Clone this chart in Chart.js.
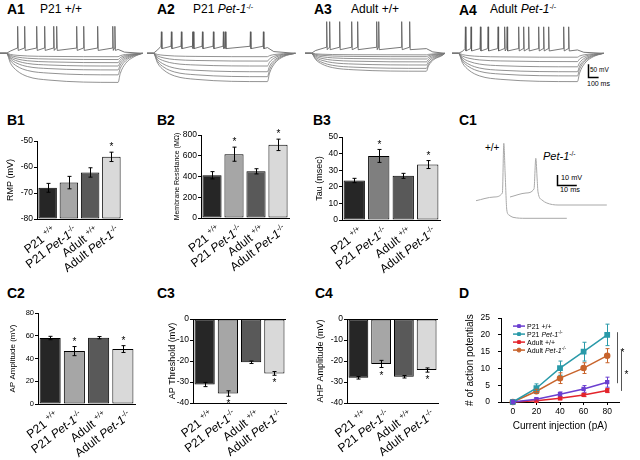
<!DOCTYPE html>
<html>
<head>
<meta charset="utf-8">
<title>Pet-1 membrane properties</title>
<script src="https://cdn.jsdelivr.net/npm/chart.js@4.4.1/dist/chart.umd.min.js"></script>
<style>
  body { margin: 0; background: #fff; }
  #fig { position: relative; width: 640px; height: 460px; overflow: hidden; font-family: "Liberation Sans", Arial, sans-serif; color: #000; }
  #fig canvas { position: absolute; }
  .pl { position: absolute; font-size: 14px; font-weight: bold; line-height: 14px; }
  .tt { position: absolute; font-size: 12px; line-height: 12px; white-space: nowrap; }
  .sm { position: absolute; line-height: 1; white-space: nowrap; }
  sup { font-size: 0.6em; vertical-align: 0.55em; line-height: 0; }
</style>
</head>
<body>
<div id="fig">
  <div class="pl" style="left:7px;top:2px">A1</div>
  <div class="tt" style="left:40px;top:3px">P21 +/+</div>
  <div class="pl" style="left:157px;top:2px">A2</div>
  <div class="tt" style="left:193px;top:3px">P21 <i>Pet-1</i><sup>-/-</sup></div>
  <div class="pl" style="left:314px;top:2px">A3</div>
  <div class="tt" style="left:351px;top:3px">Adult +/+</div>
  <div class="pl" style="left:459px;top:3px">A4</div>
  <div class="tt" style="left:490px;top:3px">Adult <i>Pet-1</i><sup>-/-</sup></div>
  <div class="sm" style="left:590px;top:67px;font-size:6.5px">50 mV</div>
  <div class="sm" style="left:587px;top:80px;font-size:7px">100 ms</div>

  <div class="pl" style="left:7px;top:113px">B1</div>
  <div class="pl" style="left:157px;top:113px">B2</div>
  <div class="pl" style="left:313px;top:113px">B3</div>
  <div class="pl" style="left:459px;top:113px">C1</div>
  <div class="sm" style="left:485px;top:143px;font-size:10px">+/+</div>
  <div class="sm" style="left:543px;top:151px;font-size:11px"><i>Pet-1</i><sup>-/-</sup></div>
  <div class="sm" style="left:561px;top:174px;font-size:7.3px">10 mV</div>
  <div class="sm" style="left:560px;top:186px;font-size:7.3px">10 ms</div>

  <div class="pl" style="left:7px;top:286px">C2</div>
  <div class="pl" style="left:157px;top:286px">C3</div>
  <div class="pl" style="left:315px;top:286px">C4</div>
  <div class="pl" style="left:459px;top:286px">D</div>
</div>
<script>
// ---- data ----
var groups = ['P21 +/+', 'P21 Pet-1-/-', 'Adult +/+', 'Adult Pet-1-/-'];

var rmp = [-68, -66, -62.1, -56.1];
var rmpErr = [1.7, 2.4, 1.8, 1.8];
var rmpSig = [0, 0, 0, 1];
var resistance = [412, 615, 450, 705];
var resistanceErr = [35, 68, 25, 55];
var resistanceSig = [0, 1, 0, 1];
var tau = [23.8, 38.6, 26.6, 33.4];
var tauErr = [1.3, 3.9, 1.5, 2.4];
var tauSig = [0, 1, 0, 1];
var apAmp = [58, 46.5, 58.3, 48.3];
var apAmpErr = [1.5, 4, 1, 3];
var apAmpSig = [0, 1, 0, 1];
var apThreshold = [-31.2, -35.5, -20.6, -25.9];
var apThresholdErr = [1, 1.3, 0.6, 0.9];
var apThresholdSig = [0, 1, 0, 1];
var ahpAmp = [-28, -21.4, -27.5, -24.3];
var ahpAmpErr = [0.6, 1.7, 0.6, 1];
var ahpAmpSig = [0, 1, 0, 1];

// D: number of action potentials vs current step
var current = [0, 20, 40, 60, 80];
var xTicks = [0, 20, 40, 60, 80];
var apP21Wt = [0, 0.85, 2.3, 3.9, 5.9];
var apP21WtErr = [0, 0.3, 0.7, 1.0, 1.5];
var apP21Ko = [0, 4.1, 10.1, 15, 20];
var apP21KoErr = [0, 1.3, 2.1, 2.8, 3.2];
var apAdultWt = [0, 0.35, 1.1, 2.1, 3.4];
var apAdultWtErr = [0, 0.2, 0.4, 0.5, 0.6];
var apAdultKo = [0, 3.2, 7.1, 10.1, 13.8];
var apAdultKoErr = [0, 0.6, 1.6, 1.6, 2.1];
var sigLines = [{at: 88, from: 20.8, to: 5.6, star: 15.2}, {at: 92, from: 15.5, to: 3.3, star: 8.7}];

// A: step responses (mV from rest), spike times (ms from step onset)
var a1Steps = [-13, -24, -36, -49, -64, -83, -112];
var a1Spikes = [106, 172, 285, 360, 445, 473, 661, 727, 858, 1000, 1020];
var a2Steps = [-13, -30, -49, -71, -90, -109];
var a2Spikes = [75, 169, 263, 367, 376, 461, 564, 658, 677, 912, 1034];
var a3Steps = [-6, -13, -22, -33, -45, -58, -69];
var a3Spikes = [144, 172, 266, 379, 435, 614, 633, 849, 924];
var a4Steps = [-15, -32, -52, -71, -87, -109];
var a4Spikes = [66, 119, 207, 279, 373, 435, 458, 567, 614, 661, 755, 802, 849, 990, 1037];
var stepDur = [1050, 1072, 1081, 1119];
var traceEnd = [1280, 1335, 1255, 1365];
var spikePeak = [104, 83, 122, 102];
var depolLevel = [15, 22, 18, 13];

// C1: single action potentials (ms, mV)
var c1WtTime = [3, 12, 16.2, 16.9, 17.6, 18.4, 19.5, 21.5, 28, 48.4];
var c1WtVm = [-45.7, -42, -38, 11.7, -20, -55, -60, -62.3, -63.3, -63.3];
var c1KoTime = [20, 28, 32, 32.9, 33.6, 34, 36, 38.4, 44, 68.4];
var c1KoVm = [-42, -38, -34, -3.3, -25, -37, -45, -48, -50, -50];

// ---- setup ----
var FAM = '"Liberation Sans", Arial, sans-serif';
Chart.defaults.font.family = FAM;
Chart.defaults.color = '#000';
Chart.defaults.animation = false;
Chart.defaults.responsive = false;
Chart.defaults.plugins.legend.display = false;
Chart.defaults.plugins.tooltip.enabled = false;

function makeCanvas(left, top, w, h) {
  var c = document.createElement('canvas');
  c.width = w; c.height = h;
  c.style.left = left + 'px'; c.style.top = top + 'px';
  c.style.width = w + 'px'; c.style.height = h + 'px';
  document.getElementById('fig').appendChild(c);
  return c;
}

// 'P21 Pet-1-/-' -> [['P21 ','n'],['Pet-1','i'],['-/-','s']]
function labelParts(name, supPlus) {
  var m = name.match(/^(\S+ )(Pet-1)?(.*)$/);
  var parts = [[m[1], 'n']];
  if (m[2]) parts.push([m[2], 'i']);
  parts.push([m[3], (m[3] === '+/+' && !supPlus) ? 'n' : 's']);
  return parts;
}

function drawParts(ctx, parts, x, y, size, angle, align) {
  var fonts = parts.map(function (p) {
    if (p[1] === 's') return (size * 0.65).toFixed(1) + 'px ' + FAM;
    return (p[1] === 'i' ? 'italic ' : '') + size + 'px ' + FAM;
  });
  var widths = parts.map(function (p, k) { ctx.font = fonts[k]; return ctx.measureText(p[0]).width; });
  var total = widths.reduce(function (a, b) { return a + b; }, 0);
  ctx.save();
  ctx.translate(x, y);
  ctx.rotate(-angle);
  ctx.textBaseline = 'alphabetic';
  ctx.textAlign = 'left';
  ctx.fillStyle = '#000';
  var cx = align === 'right' ? -total : 0;
  parts.forEach(function (p, k) {
    ctx.font = fonts[k];
    ctx.fillText(p[0], cx, p[1] === 's' ? -size * 0.38 : 0);
    cx += widths[k];
  });
  ctx.restore();
}

// error bars, asterisks and the rotated group names under the bars
var barExtras = {
  id: 'barExtras',
  afterDatasetsDraw: function (chart, args, o) {
    var ctx = chart.ctx, area = chart.chartArea, x = chart.scales.x, y = chart.scales.y;
    var meta = chart.getDatasetMeta(0);
    ctx.save();
    ctx.strokeStyle = '#000';
    ctx.fillStyle = '#000';
    ctx.lineWidth = 1;
    o.values.forEach(function (v, i) {
      var px = Math.round(meta.data[i].x) + 0.5;
      var lo = y.getPixelForValue(v - o.errors[i]);
      var hi = y.getPixelForValue(v + o.errors[i]);
      ctx.beginPath();
      ctx.moveTo(px, lo); ctx.lineTo(px, hi);
      ctx.moveTo(px - 2, lo); ctx.lineTo(px + 2, lo);
      ctx.moveTo(px - 2, hi); ctx.lineTo(px + 2, hi);
      ctx.stroke();
      if (o.sig[i]) {
        ctx.font = '10px ' + FAM;
        ctx.textAlign = 'center';
        ctx.textBaseline = 'middle';
        var sy = o.down ? Math.max(lo, hi) + 6 : Math.min(lo, hi) - 7;
        ctx.fillText('*', px, sy + 2.3);
      }
    });
    ctx.restore();
    groups.forEach(function (g, i) {
      drawParts(ctx, labelParts(g, true), x.getPixelForValue(i) + 9, area.bottom + 13, 12, 0.65, 'right');
    });
  }
};

var barColors = ['#262626', '#a6a6a6', '#595959', '#d9d9d9'];
var barColorsTau = ['#262626', '#7f7f7f', '#595959', '#d9d9d9'];

function barPanel(p) {
  var padTop = 12, axisH = 64, padRight = 4;
  var top = p.plotTop - padTop;
  var w = p.plotRight + padRight - p.left;
  var h = p.plotBottom - top + axisH;
  var cv = makeCanvas(p.left, top, w, h);
  var lh = p.titleSize * 1.2;
  new Chart(cv, {
    type: 'bar',
    data: {
      labels: groups,
      datasets: [{
        data: p.values,
        base: p.base,
        backgroundColor: p.colors,
        borderColor: '#000',
        borderWidth: 1,
        borderSkipped: false,
        barPercentage: 0.87,
        categoryPercentage: 1
      }]
    },
    options: {
      layout: { padding: { top: padTop, right: padRight, left: 0, bottom: 0 } },
      scales: {
        x: {
          ticks: { display: false },
          grid: { display: false },
          border: { color: '#000' },
          afterFit: function (s) { s.height = axisH; }
        },
        y: {
          min: p.min, max: p.max,
          ticks: { stepSize: p.step, font: { size: p.tickSize }, color: '#000', padding: 1 },
          grid: {
            color: function (c) { return (p.down && c.tick && c.tick.value === 0) ? '#000' : 'rgba(0,0,0,0)'; },
            tickColor: '#000', tickLength: 3
          },
          border: { color: '#000' },
          title: { display: true, text: p.title, font: { size: p.titleSize }, color: '#000', padding: { top: p.titleX - p.left - lh / 2, bottom: 0 } },
          afterFit: function (s) { s.width = p.plotLeft - p.left; }
        }
      },
      plugins: { barExtras: { values: p.values, errors: p.errors, sig: p.sig, down: p.down } }
    },
    plugins: [barExtras]
  });
}

barPanel({ left: 0, plotLeft: 37, plotRight: 122, plotTop: 141, plotBottom: 219, values: rmp, errors: rmpErr, sig: rmpSig,
  min: -80, max: -50, step: 10, base: -80, title: 'RMP (mV)', titleSize: 9, titleX: 11, tickSize: 8.5, colors: barColors });
barPanel({ left: 160, plotLeft: 201, plotRight: 289, plotTop: 135, plotBottom: 218, values: resistance, errors: resistanceErr, sig: resistanceSig,
  min: 0, max: 800, step: 200, title: 'Membrane Resistance (MΩ)', titleSize: 7, titleX: 177, tickSize: 8.5, colors: barColors });
barPanel({ left: 305, plotLeft: 342, plotRight: 440, plotTop: 137, plotBottom: 220, values: tau, errors: tauErr, sig: tauSig,
  min: 0, max: 50, step: 10, title: 'Tau (msec)', titleSize: 9, titleX: 320, tickSize: 8.5, colors: barColorsTau });
barPanel({ left: 0, plotLeft: 38, plotRight: 135, plotTop: 313, plotBottom: 404, values: apAmp, errors: apAmpErr, sig: apAmpSig,
  min: 0, max: 80, step: 20, title: 'AP Amplitude (mV)', titleSize: 8, titleX: 13, tickSize: 7.5, colors: barColors });
barPanel({ left: 155, plotLeft: 193, plotRight: 286, plotTop: 319, plotBottom: 403, values: apThreshold, errors: apThresholdErr, sig: apThresholdSig,
  min: -40, max: 0, step: 10, title: 'AP Threshold (mV)', titleSize: 9, titleX: 173, tickSize: 8.5, colors: barColors, down: true });
barPanel({ left: 305, plotLeft: 347, plotRight: 438, plotTop: 319, plotBottom: 403, values: ahpAmp, errors: ahpAmpErr, sig: ahpAmpSig,
  min: -40, max: 0, step: 10, title: 'AHP Amplitude (mV)', titleSize: 9, titleX: 321, tickSize: 8.5, colors: barColors, down: true });

// ---- A: voltage responses to current steps ----
var MS_PER_PX = 9.4, MV_PER_PX = 3.85, REST_PX = 35.3;

function stepTrace(L, dur, end) {
  return [[-60, 0], [0, 0], [40, 0.35 * L], [100, 0.6 * L], [200, 0.8 * L], [400, 0.92 * L], [dur, L],
    [dur + 20, 0.7 * L], [dur + 70, 0.35 * L], [dur + 150, 0.12 * L], [end, 0]].map(function (q) { return { x: q[0], y: q[1] }; });
}

function spikeTrace(spikes, dur, end, plateau, peak) {
  var pts = [{ x: -60, y: 0 }, { x: 0, y: 0 }, { x: 40, y: plateau * 0.6 }];
  spikes.forEach(function (t) {
    pts.push({ x: t - 4, y: plateau + 5 });
    pts.push({ x: t, y: peak });
    pts.push({ x: t + 5, y: plateau - 4 });
  });
  pts.push({ x: dur, y: plateau });
  pts.push({ x: dur + 60, y: plateau * 0.3 });
  pts.push({ x: end, y: 0 });
  return pts;
}

var scaleBar = {
  id: 'scaleBar',
  afterDatasetsDraw: function (chart, args, o) {
    if (!o || !o.show) return;
    var ctx = chart.ctx, x = chart.scales.x, y = chart.scales.y;
    var x0 = Math.round(x.getPixelForValue(o.x)) + 0.5, y0 = Math.round(y.getPixelForValue(o.y)) + 0.5;
    ctx.save();
    ctx.strokeStyle = '#000';
    ctx.lineWidth = o.width;
    ctx.beginPath();
    ctx.moveTo(x0, y.getPixelForValue(o.y + o.dy));
    ctx.lineTo(x0, y0);
    ctx.lineTo(x.getPixelForValue(o.x + o.dx), y0);
    ctx.stroke();
    ctx.restore();
  }
};

function tracePanel(left, width, k, steps, spikes, bar) {
  var h = 72;
  var cv = makeCanvas(left, 18, width, h);
  var ds = steps.map(function (L) {
    return { data: stepTrace(L, stepDur[k], traceEnd[k]), borderColor: '#777', borderWidth: 0.8, pointRadius: 0, cubicInterpolationMode: 'monotone' };
  });
  ds.push({ data: spikeTrace(spikes, stepDur[k], traceEnd[k], depolLevel[k], spikePeak[k]), borderColor: '#555', borderWidth: 0.8, pointRadius: 0, tension: 0 });
  new Chart(cv, {
    type: 'line',
    data: { datasets: ds },
    options: {
      layout: { padding: 0 },
      scales: {
        x: { type: 'linear', display: false, min: -60, max: -60 + width * MS_PER_PX },
        y: { display: false, min: -(h - REST_PX) * MV_PER_PX, max: REST_PX * MV_PER_PX }
      },
      plugins: { scaleBar: bar || { show: false } }
    },
    plugins: [scaleBar]
  });
}

tracePanel(0, 150, 0, a1Steps, a1Spikes);
tracePanel(147, 150, 1, a2Steps, a2Spikes);
tracePanel(305, 150, 2, a3Steps, a3Spikes);
tracePanel(452, 188, 3, a4Steps, a4Spikes, { show: true, x: 1218, y: -92, dx: 100, dy: 50, width: 1.5 });

// ---- C1: single spikes ----
new Chart(makeCanvas(470, 135, 140, 90), {
  type: 'line',
  data: {
    datasets: [
      { data: c1WtTime.map(function (t, i) { return { x: t, y: c1WtVm[i] }; }), borderColor: '#a8a8a8', borderWidth: 1, pointRadius: 0, cubicInterpolationMode: 'monotone' },
      { data: c1KoTime.map(function (t, i) { return { x: t, y: c1KoVm[i] }; }), borderColor: '#a8a8a8', borderWidth: 1, pointRadius: 0, cubicInterpolationMode: 'monotone' }
    ]
  },
  options: {
    layout: { padding: 0 },
    scales: {
      x: { type: 'linear', display: false, min: 0, max: 70 },
      y: { display: false, min: -70, max: 20 }
    },
    plugins: { scaleBar: { show: true, x: 43.4, y: -30, dx: 10, dy: 10, width: 1.5 } }
  },
  plugins: [scaleBar]
});

// ---- D: spike number vs injected current ----
var seriesNames = ['P21 +/+', 'P21 Pet-1-/-', 'Adult +/+', 'Adult Pet-1-/-'];
var seriesValues = [apP21Wt, apP21Ko, apAdultWt, apAdultKo];
var seriesErrors = [apP21WtErr, apP21KoErr, apAdultWtErr, apAdultKoErr];
var seriesColors = ['#6b3fd0', '#2a9aa9', '#e3242b', '#c8642c'];
var seriesPoints = ['rect', 'rect', 'rect', 'circle'];
var seriesRadius = [2, 3, 2, 2.5];

var dExtras = {
  id: 'dExtras',
  afterDatasetsDraw: function (chart) {
    var ctx = chart.ctx, area = chart.chartArea, x = chart.scales.x, y = chart.scales.y;
    ctx.save();
    chart.data.datasets.forEach(function (ds) {
      ctx.strokeStyle = ds.borderColor;
      ctx.lineWidth = 1;
      ds.data.forEach(function (p, i) {
        var e = ds.errors[i];
        if (!e) return;
        var px = Math.round(x.getPixelForValue(p.x)) + 0.5;
        var lo = y.getPixelForValue(p.y - e), hi = y.getPixelForValue(p.y + e);
        ctx.beginPath();
        ctx.moveTo(px, lo); ctx.lineTo(px, hi);
        ctx.moveTo(px - 2, lo); ctx.lineTo(px + 2, lo);
        ctx.moveTo(px - 2, hi); ctx.lineTo(px + 2, hi);
        ctx.stroke();
      });
    });
    ctx.strokeStyle = '#555';
    ctx.fillStyle = '#000';
    ctx.font = '10px ' + FAM;
    ctx.textAlign = 'center';
    ctx.textBaseline = 'middle';
    sigLines.forEach(function (s) {
      var px = Math.round(x.getPixelForValue(s.at)) + 0.5;
      ctx.beginPath();
      ctx.moveTo(px, y.getPixelForValue(s.from));
      ctx.lineTo(px, y.getPixelForValue(s.to));
      ctx.stroke();
      ctx.fillText('*', px + 5, y.getPixelForValue(s.star) + 2.3);
    });
    // legend
    var lx = area.left + 12, ly0 = area.top + 8;
    chart.data.datasets.forEach(function (ds, k) {
      var ly = ly0 + k * 8;
      ctx.strokeStyle = ds.borderColor;
      ctx.fillStyle = ds.borderColor;
      ctx.lineWidth = 1.5;
      ctx.beginPath(); ctx.moveTo(lx, ly); ctx.lineTo(lx + 12, ly); ctx.stroke();
      ctx.lineWidth = 1;
      Chart.helpers.drawPoint(ctx, { pointStyle: ds.pointStyle, radius: 2, borderWidth: 1, rotation: 0 }, lx + 6, ly);
      drawParts(ctx, labelParts(seriesNames[k], false), lx + 14, ly + 2.5, 7, 0, 'left');
    });
    ctx.restore();
  }
};

new Chart(makeCanvas(455, 305, 185, 130), {
  type: 'line',
  data: {
    datasets: seriesValues.map(function (vals, k) {
      return {
        data: current.map(function (c, i) { return { x: c, y: vals[i] }; }),
        errors: seriesErrors[k],
        borderColor: seriesColors[k],
        backgroundColor: seriesColors[k],
        borderWidth: 1.5,
        pointStyle: seriesPoints[k],
        pointRadius: seriesRadius[k],
        clip: false
      };
    })
  },
  options: {
    layout: { padding: { top: 8, right: 21, left: 0, bottom: 0 } },
    scales: {
      x: {
        type: 'linear', min: -10, max: 90,
        afterBuildTicks: function (s) { s.ticks = xTicks.map(function (v) { return { value: v }; }); },
        ticks: { font: { size: 8.5 }, color: '#000', padding: 2 },
        grid: { drawOnChartArea: false, tickLength: 3, color: '#000' },
        border: { color: '#000' },
        title: { display: true, text: 'Current injection (pA)', font: { size: 10 }, color: '#000', padding: { top: 0, bottom: 3 } },
        afterFit: function (s) { s.height = 33; }
      },
      y: {
        min: 0, max: 25,
        ticks: { stepSize: 5, font: { size: 8.5 }, color: '#000', padding: 8 },
        grid: { drawOnChartArea: false, tickLength: 3, color: '#000' },
        border: { color: '#000' },
        title: { display: true, text: '# of action potentials', font: { size: 10 }, color: '#000', padding: { top: 9, bottom: 0 } },
        afterFit: function (s) { s.width = 46; }
      }
    }
  },
  plugins: [dExtras]
});
</script>
</body>
</html>
